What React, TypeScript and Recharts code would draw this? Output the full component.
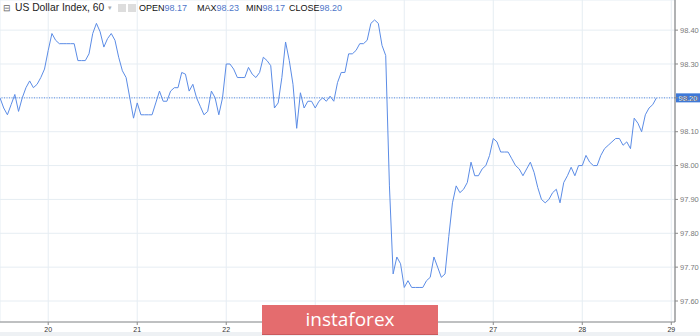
import React from "react";
import { LineChart, Line, XAxis, YAxis, CartesianGrid, ReferenceLine } from "recharts";

// hourly closes, first point is 13 hours before the start of day "20"
const closes: number[] = [
  98.20, 98.17, 98.15, 98.18, 98.21, 98.16, 98.20, 98.23, 98.25, 98.23,
  98.24, 98.26, 98.285, 98.34, 98.39, 98.37, 98.36, 98.36, 98.36, 98.36,
  98.36, 98.31, 98.31, 98.31, 98.33, 98.39, 98.42, 98.395, 98.35, 98.375,
  98.39, 98.37, 98.32, 98.28, 98.26, 98.20, 98.14, 98.185, 98.15, 98.15,
  98.15, 98.15, 98.185, 98.22, 98.19, 98.19, 98.22, 98.23, 98.23, 98.275,
  98.27, 98.22, 98.24, 98.20, 98.175, 98.15, 98.16, 98.22, 98.20, 98.15,
  98.20, 98.30, 98.30, 98.285, 98.26, 98.26, 98.26, 98.29, 98.27, 98.26,
  98.275, 98.32, 98.31, 98.295, 98.17, 98.185, 98.26, 98.365, 98.31, 98.24,
  98.11, 98.215, 98.17, 98.19, 98.19, 98.17, 98.19, 98.20, 98.19, 98.205,
  98.19, 98.245, 98.275, 98.275, 98.33, 98.33, 98.34, 98.36, 98.36, 98.37,
  98.42, 98.43, 98.42, 98.355, 98.325, 97.94, 97.68, 97.73, 97.71, 97.64,
  97.66, 97.64, 97.64, 97.64, 97.64, 97.66, 97.67, 97.73, 97.70, 97.67,
  97.68, 97.79, 97.89, 97.94, 97.92, 97.93, 97.95, 98.01, 97.97, 97.97,
  97.99, 98.00, 98.03, 98.08, 98.07, 98.04, 98.04, 98.04, 98.02, 98.00,
  97.99, 97.97, 97.99, 98.01, 97.98, 97.935, 97.90, 97.89, 97.90, 97.92,
  97.93, 97.89, 97.95, 97.97, 97.995, 97.97, 98.00, 98.00, 98.03, 98.01,
  98.00, 98.00, 98.03, 98.05, 98.06, 98.07, 98.08, 98.08, 98.06, 98.07,
  98.05, 98.14, 98.125, 98.10, 98.15, 98.17, 98.18, 98.20,
];
const firstHour = -13;

const dayTickHours: number[] = [0, 24, 48, 72, 96, 120, 144, 168];
const dayTickLabels: string[] = ["20", "21", "22", "23", "26", "27", "28", "29"];
const priceTicks: number[] = [97.6, 97.7, 97.8, 97.9, 98.0, 98.1, 98.2, 98.3, 98.4];
const lastPrice = 98.2;

const headerStats: { label: string; value: string }[] = [
  { label: "OPEN", value: "98.17" },
  { label: "MAX", value: "98.23" },
  { label: "MIN", value: "98.17" },
  { label: "CLOSE", value: "98.20" },
];

const data = closes.map((v, i) => ({ hour: firstHour + i, close: v }));

const BLUE = "#5b8ce6";
const FONT = "'Liberation Sans', Arial, sans-serif";

const PriceTag = (props: any) => {
  const vb = props.viewBox || {};
  if (!vb.width) return null;
  const x = (vb.x || 0) + (vb.width || 0) + 1;
  const y = vb.y || 0;
  return (
    <g>
      <rect x={x} y={y - 4.5} width={24} height={9} fill="#3d78d8" />
      <text x={x + 12} y={y + 3} fill="#fff" fontSize={7.5} textAnchor="middle" fontFamily={FONT}>
        {lastPrice.toFixed(2)}
      </text>
    </g>
  );
};

const statPositions = [139, 197, 246, 289];

export default function App() {
  return (
    <div style={{ position: "absolute", left: 0, top: 0, width: 700, height: 336, background: "#fff", overflow: "hidden", fontFamily: FONT }}>
      <div style={{ position: "absolute", left: 0, top: 332, width: 700, height: 4, background: "#eef1f4" }} />
      <LineChart width={700} height={336} data={data} margin={{ top: 0, right: 0, bottom: 0, left: 0 }}>
        <CartesianGrid stroke="#e6edf3" strokeWidth={1} />
        <XAxis
          dataKey="hour"
          type="number"
          domain={[-13, 169]}
          ticks={dayTickHours}
          tickFormatter={(h: number) => dayTickLabels[dayTickHours.indexOf(h)] ?? ""}
          height={14}
          axisLine={{ stroke: "#8a8a8a" }}
          tickLine={{ stroke: "#8a8a8a" }}
          tickSize={3}
          tick={{ fontSize: 7, fill: "#333", fontFamily: FONT }}
          interval={0}
          allowDataOverflow
        />
        <YAxis
          orientation="right"
          type="number"
          domain={[97.538, 98.489]}
          ticks={priceTicks}
          tickFormatter={(v: number) => v.toFixed(2)}
          width={25}
          axisLine={{ stroke: "#6e6e6e" }}
          tickLine={{ stroke: "#8a8a8a" }}
          tickSize={3}
          tick={{ fontSize: 7.5, fill: "#7a7a7a", fontFamily: FONT }}
          interval={0}
          allowDataOverflow
        />
        <ReferenceLine y={lastPrice} stroke={BLUE} strokeDasharray="1 1.5" strokeWidth={1} label={<PriceTag />} />
        <Line
          type="linear"
          dataKey="close"
          stroke={BLUE}
          strokeWidth={1}
          dot={false}
          activeDot={false}
          isAnimationActive={false}
        />
      </LineChart>
      <div style={{ position: "absolute", left: 0, top: 1, height: 14, width: 350, fontSize: 9, lineHeight: "14px", color: "#222" }}>
        <span style={{ position: "absolute", left: 3, top: 0, fontSize: 9, color: "#666" }}>⊟</span>
        <span style={{ position: "absolute", left: 15, top: 0, fontSize: 10.3 }}>US Dollar Index, 60</span>
        <span style={{ position: "absolute", left: 108, top: 0, fontSize: 7, color: "#aaa" }}>▾</span>
        <span style={{ position: "absolute", left: 118, top: 3, width: 8, height: 8, background: "#ddd" }} />
        <span style={{ position: "absolute", left: 128, top: 3, width: 8, height: 8, background: "#ddd" }} />
        {headerStats.map((s, i) => (
          <span key={s.label} style={{ position: "absolute", left: statPositions[i], top: 0, whiteSpace: "nowrap" }}>
            <span style={{ color: "#111" }}>{s.label}</span>
            <span style={{ color: "#4f76c9" }}>{s.value}</span>
          </span>
        ))}
      </div>
      <div
        style={{
          position: "absolute",
          left: 262,
          top: 305,
          width: 176,
          height: 29,
          background: "#e46c6e",
          borderBottom: "1px solid #c95a5c",
          color: "#fff",
          fontFamily: "'Open Sans', sans-serif",
          fontSize: 19,
          lineHeight: "28px",
          textAlign: "center",
          letterSpacing: 0,
        }}
      >
        instaforex
      </div>
    </div>
  );
}
